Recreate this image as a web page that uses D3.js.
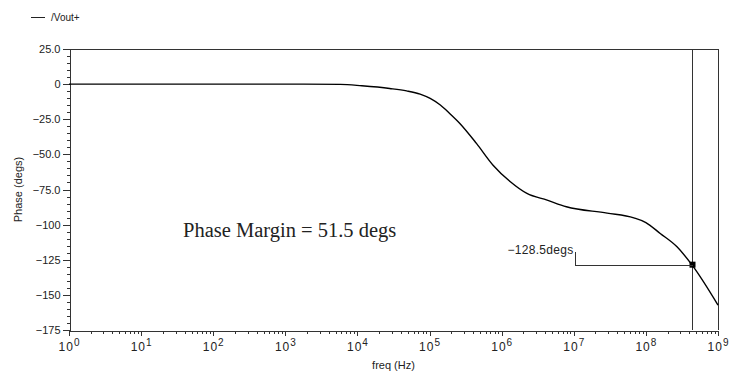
<!DOCTYPE html>
<html>
<head>
<meta charset="utf-8">
<script src="https://cdn.jsdelivr.net/npm/d3@7"></script>
<style>
  html, body { margin: 0; padding: 0; background: #fff; }
  svg { display: block; }
  .ax text { font-family: "Liberation Sans", Arial, sans-serif; font-size: 11px; fill: #222; }
  .ax path, .ax line { stroke: #333; shape-rendering: crispEdges; }
</style>
</head>
<body>
<svg id="chart" width="731" height="377"></svg>
<script>
// Phase response of /Vout+ (degrees vs. frequency)
const freqHz = [1, 10, 100, 1e3, 5.8e3, 1.15e4, 2.8e4, 4.8e4, 7.4e4, 1.02e5, 1.41e5, 1.9e5, 2.63e5,
                4.47e5, 7.6e5, 1.32e6, 2.24e6, 4.27e6, 7.9e6, 2.9e7, 6.8e7, 1e8, 1.58e8, 2.7e8, 4.33e8, 1e9];
const phaseDeg = [0, 0, 0, 0, -0.2, -1.2, -3.1, -4.8, -7.1, -10.2, -14.9, -20.9, -28.0,
                  -42.2, -57.7, -69.5, -77.8, -82.6, -87.3, -91.8, -95.2, -98.5, -106.3, -115.8, -128.5, -157.3];

// Unity-gain cursor
const cursorFreq = 4.33e8;
const cursorPhase = -128.5;
const cursorLabel = "\u2212128.5degs";
const marginText = "Phase Margin = 51.5 degs";

const yMajorTicks = [25, 0, -25, -50, -75, -100, -125, -150, -175];
const yTickLabels = ["25.0", "0", "\u221225.0", "\u221250.0", "\u221275.0", "\u2212100", "\u2212125", "\u2212150", "\u2212175"];
const xDecades = [0, 1, 2, 3, 4, 5, 6, 7, 8, 9];
const seriesName = "/Vout+";

const svg = d3.select("#chart");
const pL = 69, pR = 718, pT = 49, pB = 330;

const x = d3.scaleLog().domain([1, 1e9]).range([pL, pR]);
const y = d3.scaleLinear().domain([-175, 25]).range([pB, pT]);

// Frame: top and right borders
svg.append("path")
  .attr("d", `M${pL},${pT + 0.5}H${pR + 0.5}V${pB}`)
  .attr("fill", "none").attr("stroke", "#333").attr("shape-rendering", "crispEdges");

// Y axis: major + minor ticks
const yMinor = d3.range(-175, 26, 5).filter(v => !yMajorTicks.includes(v));
svg.append("g").attr("class", "ax").attr("transform", `translate(${pL + 0.5},0)`)
  .call(d3.axisLeft(y).tickValues(yMinor).tickSize(3).tickFormat(""))
  .select(".domain").remove();
svg.append("g").attr("class", "ax").attr("transform", `translate(${pL + 0.5},0)`)
  .call(d3.axisLeft(y).tickValues(yMajorTicks).tickSizeOuter(0).tickSize(7).tickPadding(2)
    .tickFormat((d, i) => yTickLabels[i]));

// X axis: decades with minor ticks
const xMinor = [];
xDecades.slice(0, -1).forEach(k => { for (let m = 2; m <= 9; m++) xMinor.push(m * Math.pow(10, k)); });
svg.append("g").attr("class", "ax").attr("transform", `translate(0,${pB + 0.5})`)
  .call(d3.axisBottom(x).tickValues(xMinor).tickSize(3).tickFormat(""))
  .select(".domain").remove();
const xAx = svg.append("g").attr("class", "ax").attr("transform", `translate(0,${pB + 0.5})`)
  .call(d3.axisBottom(x).tickValues(xDecades.map(k => Math.pow(10, k))).tickSizeOuter(0).tickSize(5).tickPadding(3)
    .tickFormat(d => String(Math.round(Math.log10(d)))));
xAx.selectAll(".tick text").each(function () {
  const t = d3.select(this);
  const e = t.text();
  t.text("").attr("dy", "1.05em").style("letter-spacing", "1px").style("font-size", "12px");
  t.append("tspan").text("10");
  t.append("tspan").attr("dy", "-5").attr("font-size", "10px").text(e);
});

// Axis titles
svg.append("text").attr("x", (pL + pR) / 2).attr("y", 369).attr("text-anchor", "middle")
  .attr("font-family", "Liberation Sans, Arial, sans-serif").attr("font-size", "11px").attr("fill", "#222")
  .text("freq (Hz)");
svg.append("text").attr("transform", `translate(22,${(pT + pB) / 2}) rotate(-90)`).attr("text-anchor", "middle")
  .attr("font-family", "Liberation Sans, Arial, sans-serif").attr("font-size", "11px").attr("fill", "#222")
  .text("Phase (degs)");

// Legend
svg.append("line").attr("x1", 31).attr("x2", 45).attr("y1", 17.5).attr("y2", 17.5)
  .attr("stroke", "#222").attr("stroke-width", 1);
svg.append("text").attr("x", 51).attr("y", 21).attr("font-family", "Liberation Sans, Arial, sans-serif")
  .attr("font-size", "10px").attr("fill", "#222").text(seriesName);

// Phase curve
const pts = freqHz.map((f, i) => ({ f, p: phaseDeg[i] }));
svg.append("path").datum(pts)
  .attr("d", d3.line().x(d => x(d.f)).y(d => y(d.p)).curve(d3.curveMonotoneX))
  .attr("fill", "none").attr("stroke", "#000").attr("stroke-width", 1.4);

// Cursor line, marker and leader label
const cx = Math.round(x(cursorFreq)) + 0.5, cy = y(cursorPhase);
svg.append("line").attr("x1", cx).attr("x2", cx).attr("y1", pT).attr("y2", pB)
  .attr("stroke", "#333").attr("shape-rendering", "crispEdges");
svg.append("rect").attr("x", cx - 3).attr("y", cy - 3).attr("width", 6).attr("height", 6).attr("fill", "#000");
const lx = cx - 117, ly = Math.round(cy) + 0.5;
svg.append("path").attr("d", `M${lx},${ly - 14}V${ly}H${cx}`)
  .attr("fill", "none").attr("stroke", "#333").attr("shape-rendering", "crispEdges");
svg.append("text").attr("x", lx - 2).attr("y", ly - 12).attr("text-anchor", "end")
  .attr("font-family", "Liberation Sans, Arial, sans-serif").attr("font-size", "12px").attr("fill", "#222")
  .style("letter-spacing", "0.3px")
  .text(cursorLabel);

// Annotation
svg.append("text").attr("x", 183).attr("y", 237)
  .attr("font-family", "Liberation Serif, Times New Roman, serif").attr("font-size", "20.5px").attr("fill", "#222")
  .text(marginText);
</script>
</body>
</html>
